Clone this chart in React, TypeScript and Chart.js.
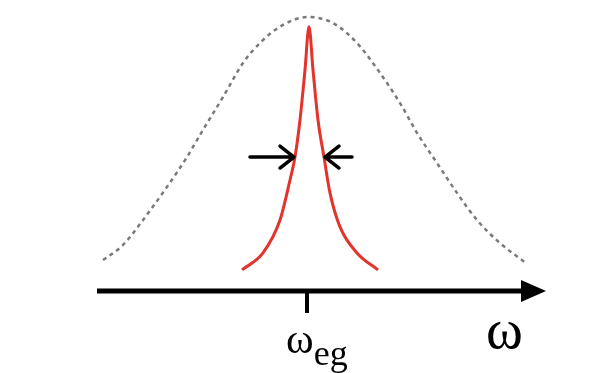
import React, { useEffect, useRef } from "react";
import { Chart, registerables } from "chart.js";

Chart.register(...registerables);

// Inhomogeneous (Gaussian) envelope: detuning from ω_eg vs relative intensity
const gaussX = [-2.04, -1.84, -1.64, -1.4, -1.2, -1.04, -0.84, -0.64, -0.44, -0.24, 0.01, 0.26, 0.5, 0.73, 0.93, 1.1, 1.3, 1.5, 1.7, 1.93, 2.2];
const gaussY = [0.113, 0.168, 0.259, 0.38, 0.489, 0.588, 0.708, 0.832, 0.916, 0.971, 1.0, 0.978, 0.905, 0.796, 0.686, 0.577, 0.467, 0.358, 0.259, 0.175, 0.099];

// Homogeneous (Lorentzian) line
const lorX = [-0.65, -0.44, -0.27, -0.17, -0.12, -0.07, -0.02, 0.02, 0.06, 0.11, 0.17, 0.23, 0.33, 0.5, 0.71];
const lorY = [0.077, 0.139, 0.259, 0.405, 0.489, 0.624, 0.807, 0.964, 0.807, 0.624, 0.489, 0.358, 0.234, 0.139, 0.077];

// Width markers (arrows pointing at the half-maximum)
const arrowLevel = 0.489;
const arrowFrom = [-0.57, 0.45];
const arrowTo = [-0.13, 0.18];

const axisMin = -2.1;
const axisMax = 2.39;
const centerTick = 0;
const centerLabel = "ω";
const centerSub = "eg";
const axisLabel = "ω";

const SERIF = '"Liberation Serif", "Times New Roman", Tinos, "DejaVu Serif", serif';
const ASC = 0.8375; // baseline offset from top of a line-height:1 box

const diagramPlugin = {
  id: "diagram",
  afterDatasetsDraw(chart: any) {
    const ctx: CanvasRenderingContext2D = chart.ctx;
    const xs = chart.scales.x;
    const ys = chart.scales.y;
    const y0 = ys.getPixelForValue(0);
    const left = xs.getPixelForValue(axisMin);
    const tip = xs.getPixelForValue(axisMax);
    ctx.save();
    ctx.setLineDash([]);
    ctx.strokeStyle = "#000";
    ctx.fillStyle = "#000";
    ctx.lineWidth = 5;
    ctx.lineCap = "butt";
    ctx.beginPath();
    ctx.moveTo(left, y0);
    ctx.lineTo(tip - 20, y0);
    ctx.stroke();
    ctx.beginPath();
    ctx.moveTo(tip, y0);
    ctx.lineTo(tip - 25, y0 - 11);
    ctx.lineTo(tip - 25, y0 + 11);
    ctx.closePath();
    ctx.fill();
    const tx = xs.getPixelForValue(centerTick);
    ctx.lineWidth = 4;
    ctx.beginPath();
    ctx.moveTo(tx, y0);
    ctx.lineTo(tx, y0 + 22);
    ctx.stroke();
    const ay = ys.getPixelForValue(arrowLevel);
    ctx.lineWidth = 3.5;
    ctx.lineCap = "round";
    ctx.lineJoin = "round";
    for (let i = 0; i < arrowFrom.length; i++) {
      const a = xs.getPixelForValue(arrowFrom[i]);
      const b = xs.getPixelForValue(arrowTo[i]);
      const dir = Math.sign(b - a);
      ctx.beginPath();
      ctx.moveTo(a, ay);
      ctx.lineTo(b, ay);
      ctx.moveTo(b - dir * 14, ay - 11);
      ctx.lineTo(b, ay);
      ctx.lineTo(b - dir * 14, ay + 11);
      ctx.stroke();
    }
    ctx.restore();

    // position the HTML text labels from the scale
    const host = chart.canvas.parentElement as HTMLElement;
    const c = host.querySelector("[data-label=center]") as HTMLElement | null;
    const r = host.querySelector("[data-label=axis]") as HTMLElement | null;
    if (c) {
      c.style.left = tx - 21 + "px";
      c.style.top = y0 + 62 - ASC * 42 + "px";
    }
    if (r) {
      r.style.left = tip - 60 + "px";
      r.style.top = y0 + 57 - ASC * 56 + "px";
    }
  },
};

export default function App() {
  const ref = useRef<HTMLCanvasElement | null>(null);
  useEffect(() => {
    if (!ref.current) return;
    const chart = new Chart(ref.current, {
      type: "line",
      data: {
        datasets: [
          {
            data: gaussX.map((x, i) => ({ x, y: gaussY[i] })),
            borderColor: "#7a7a7a",
            borderWidth: 2.5,
            borderDash: [4, 4],
            pointRadius: 0,
            cubicInterpolationMode: "monotone",
            fill: false,
          },
          {
            data: lorX.map((x, i) => ({ x, y: lorY[i] })),
            borderColor: "#e2342c",
            borderWidth: 3,
            pointRadius: 0,
            cubicInterpolationMode: "monotone",
            fill: false,
          },
        ],
      },
      options: {
        animation: false,
        responsive: true,
        maintainAspectRatio: false,
        clip: false as any,
        layout: { padding: { left: 97, right: 44, top: 17, bottom: 82 } },
        plugins: { legend: { display: false }, tooltip: { enabled: false } },
        scales: {
          x: { type: "linear", display: false, min: axisMin, max: axisMax },
          y: { type: "linear", display: false, min: 0, max: 1 },
        },
      },
      plugins: [diagramPlugin],
    });
    return () => chart.destroy();
  }, []);
  const labelBase: React.CSSProperties = {
    position: "absolute",
    fontFamily: SERIF,
    lineHeight: 1,
    whiteSpace: "nowrap",
    color: "#000",
    margin: 0,
    padding: 0,
  };
  return (
    <div style={{ position: "absolute", left: 0, top: 0, width: 590, height: 373, background: "#fff", overflow: "hidden" }}>
      <canvas ref={ref} />
      <div data-label="center" style={{ ...labelBase, left: 286, top: 318 }}>
        <span style={{ fontSize: 42, lineHeight: 1, fontFamily: SERIF }}>{centerLabel}</span>
        <span style={{ fontSize: 36, lineHeight: 1, position: "relative", top: 12, fontFamily: SERIF }}>{centerSub}</span>
      </div>
      <div data-label="axis" style={{ ...labelBase, left: 486, top: 301 }}>
        <span style={{ fontSize: 56, lineHeight: 1, fontFamily: SERIF }}>{axisLabel}</span>
      </div>
    </div>
  );
}
